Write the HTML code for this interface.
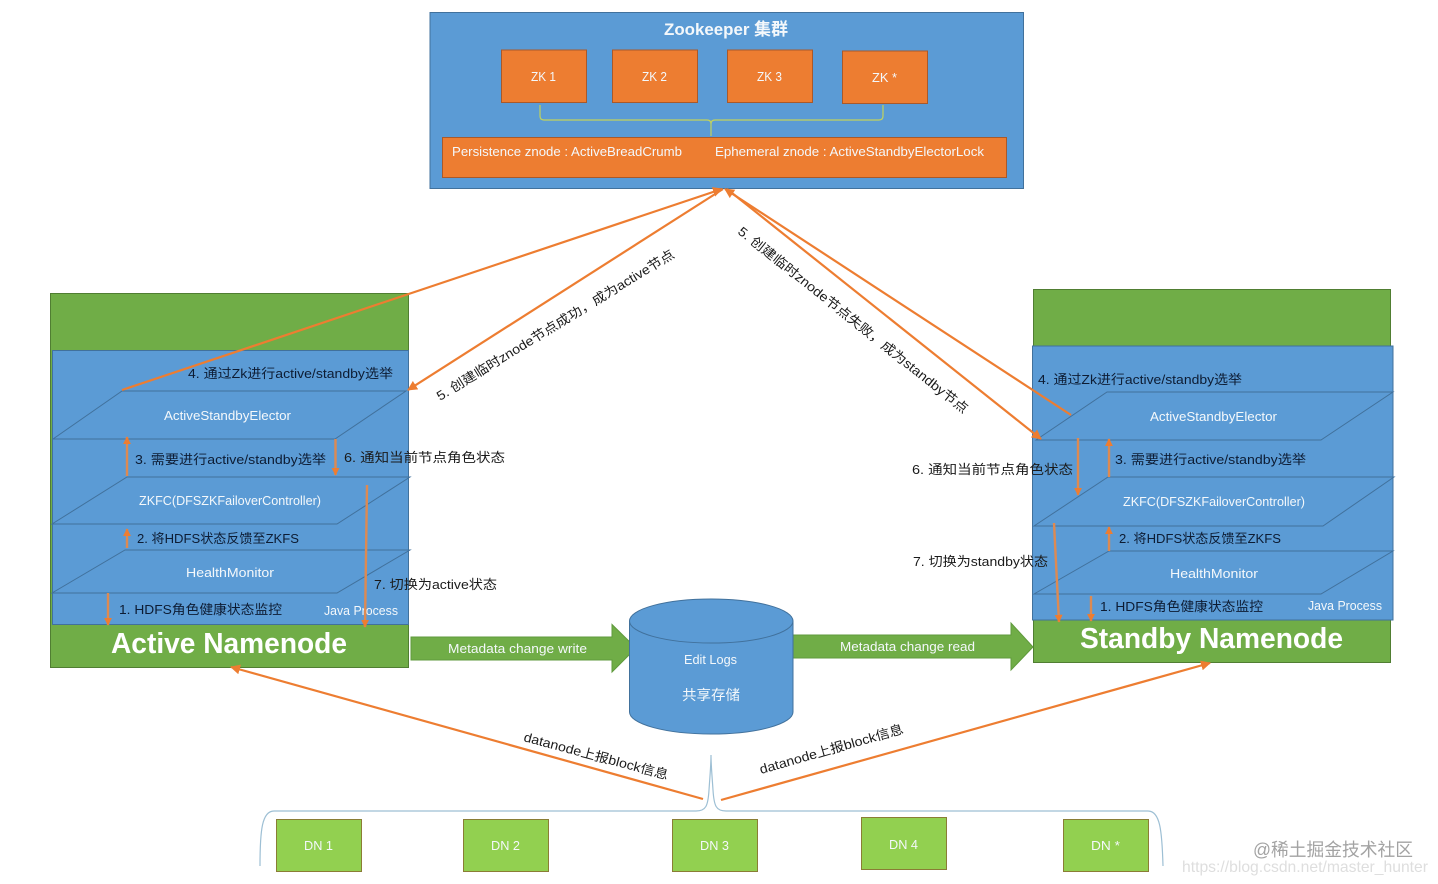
<!DOCTYPE html>
<html>
<head>
<meta charset="utf-8">
<style>
html,body{margin:0;padding:0;background:#fff;width:1438px;height:884px;overflow:hidden}
svg{display:block;filter:blur(0.35px)}
text{font-family:"Liberation Sans","Noto Sans CJK SC",sans-serif;font-size:13px}
.w{fill:#f4f8fb}
.d{fill:#0d1c33}
.k{fill:#1a1a1a}
.p{fill:none;stroke:#41719c;stroke-width:1}
.o{stroke:#ed7d31;stroke-width:2.2;fill:none}
.v{stroke:#dd8a52;stroke-width:2.4;fill:none}
</style>
</head>
<body>
<svg width="1438" height="884" viewBox="0 0 1438 884" xmlns="http://www.w3.org/2000/svg">
<defs>
<marker id="a" viewBox="0 0 10 10" refX="9" refY="5" markerWidth="8" markerHeight="8" orient="auto" markerUnits="userSpaceOnUse"><path d="M0 0L10 5L0 10Z" fill="#ed7d31"/></marker>
<marker id="b" viewBox="0 0 10 10" refX="9" refY="5" markerWidth="10" markerHeight="10" orient="auto" markerUnits="userSpaceOnUse"><path d="M0 0L10 5L0 10Z" fill="#ed7d31"/></marker>
</defs>

<!-- Zookeeper -->
<rect x="430" y="12.5" width="593.5" height="176" fill="#5b9bd5" stroke="#41719c"/>
<text x="664" y="35" class="w" font-weight="bold" style="font-size:17px" textLength="124" lengthAdjust="spacingAndGlyphs">Zookeeper 集群</text>
<g fill="#ed7d31" stroke="#a9592a">
<rect x="501.5" y="50" width="85" height="52.5"/>
<rect x="612.5" y="50" width="85" height="52.5"/>
<rect x="727.5" y="50" width="85" height="52.5"/>
<rect x="842.5" y="51" width="85" height="52.5"/>
<rect x="442.5" y="137.5" width="564" height="40"/>
</g>
<text x="531" y="81" class="w" textLength="25" lengthAdjust="spacingAndGlyphs">ZK 1</text>
<text x="642" y="81" class="w" textLength="25" lengthAdjust="spacingAndGlyphs">ZK 2</text>
<text x="757" y="81" class="w" textLength="25" lengthAdjust="spacingAndGlyphs">ZK 3</text>
<text x="872" y="82" class="w" textLength="25" lengthAdjust="spacingAndGlyphs">ZK *</text>
<path d="M540 105V116Q540 120 544 120H707Q711 120 711 124V136M711 124Q711 120 715 120H879Q883 120 883 116V105" fill="none" stroke="#c2d35c" stroke-width="1.2"/>
<text x="452" y="156" class="w" textLength="230" lengthAdjust="spacingAndGlyphs">Persistence znode : ActiveBreadCrumb</text>
<text x="715" y="156" class="w" textLength="269" lengthAdjust="spacingAndGlyphs">Ephemeral znode : ActiveStandbyElectorLock</text>

<!-- Active Namenode -->
<rect x="50.5" y="293.5" width="358" height="374" fill="#70ad47" stroke="#507e32"/>
<rect x="52.5" y="350.5" width="356" height="274" fill="#5b9bd5" stroke="#41719c"/>
<path class="p" d="M53 439L122 391H406L335 439Z"/>
<path class="p" d="M52 524L127 477H410L337 524Z"/>
<path class="p" d="M52 593L125 550H410L337 593Z"/>
<text x="188" y="378" class="d" textLength="205" lengthAdjust="spacingAndGlyphs">4. 通过Zk进行active/standby选举</text>
<text x="164" y="420" class="w" textLength="127" lengthAdjust="spacingAndGlyphs">ActiveStandbyElector</text>
<text x="135" y="464" class="d" textLength="191" lengthAdjust="spacingAndGlyphs">3. 需要进行active/standby选举</text>
<text x="344" y="462" class="k" textLength="161" lengthAdjust="spacingAndGlyphs">6. 通知当前节点角色状态</text>
<text x="139" y="505" class="w" textLength="182" lengthAdjust="spacingAndGlyphs">ZKFC(DFSZKFailoverController)</text>
<text x="137" y="543" class="d" textLength="162" lengthAdjust="spacingAndGlyphs">2. 将HDFS状态反馈至ZKFS</text>
<text x="186" y="577" class="w" textLength="88" lengthAdjust="spacingAndGlyphs">HealthMonitor</text>
<text x="374" y="589" class="k" textLength="123" lengthAdjust="spacingAndGlyphs">7. 切换为active状态</text>
<text x="119" y="614" class="d" textLength="163" lengthAdjust="spacingAndGlyphs">1. HDFS角色健康状态监控</text>
<text x="324" y="615" class="w" textLength="74" lengthAdjust="spacingAndGlyphs">Java Process</text>
<text x="111" y="653" fill="#fff" font-weight="bold" style="font-size:29px" textLength="236" lengthAdjust="spacingAndGlyphs">Active Namenode</text>

<!-- Standby Namenode -->
<rect x="1033.5" y="289.5" width="357" height="373" fill="#70ad47" stroke="#507e32"/>
<rect x="1032.5" y="346" width="360.5" height="274" fill="#5b9bd5" stroke="#41719c"/>
<path class="p" d="M1036 440L1107 392H1393L1321 440Z"/>
<path class="p" d="M1034 526L1108 477H1394L1323 526Z"/>
<path class="p" d="M1034 594L1109 551H1393L1321 594Z"/>
<text x="1038" y="384" class="d" textLength="204" lengthAdjust="spacingAndGlyphs">4. 通过Zk进行active/standby选举</text>
<text x="1150" y="421" class="w" textLength="127" lengthAdjust="spacingAndGlyphs">ActiveStandbyElector</text>
<text x="1115" y="464" class="d" textLength="191" lengthAdjust="spacingAndGlyphs">3. 需要进行active/standby选举</text>
<text x="912" y="474" class="k" textLength="161" lengthAdjust="spacingAndGlyphs">6. 通知当前节点角色状态</text>
<text x="1123" y="506" class="w" textLength="182" lengthAdjust="spacingAndGlyphs">ZKFC(DFSZKFailoverController)</text>
<text x="1119" y="543" class="d" textLength="162" lengthAdjust="spacingAndGlyphs">2. 将HDFS状态反馈至ZKFS</text>
<text x="1170" y="578" class="w" textLength="88" lengthAdjust="spacingAndGlyphs">HealthMonitor</text>
<text x="913" y="566" class="k" textLength="135" lengthAdjust="spacingAndGlyphs">7. 切换为standby状态</text>
<text x="1100" y="611" class="d" textLength="163" lengthAdjust="spacingAndGlyphs">1. HDFS角色健康状态监控</text>
<text x="1308" y="610" class="w" textLength="74" lengthAdjust="spacingAndGlyphs">Java Process</text>
<text x="1080" y="648" fill="#fff" font-weight="bold" style="font-size:29px" textLength="263" lengthAdjust="spacingAndGlyphs">Standby Namenode</text>

<!-- Vertical small arrows -->
<path class="v" d="M127 476V437" marker-end="url(#a)"/>
<path class="v" d="M335.500 439V475" marker-end="url(#a)"/>
<path class="v" d="M367 485L365 627" marker-end="url(#a)"/>
<path class="v" d="M127 548V529" marker-end="url(#a)"/>
<path class="v" d="M108 593V625" marker-end="url(#a)"/>
<path class="v" d="M1078 438V495" marker-end="url(#a)"/>
<path class="v" d="M1109 477V439" marker-end="url(#a)"/>
<path class="v" d="M1054 523L1059 622" marker-end="url(#a)"/>
<path class="v" d="M1109 551V527" marker-end="url(#a)"/>
<path class="v" d="M1091 596V621" marker-end="url(#a)"/>

<!-- Diagonal connectors -->
<path class="o" d="M122 390L722 189" marker-end="url(#b)"/>
<path class="o" d="M723 189L408 390" marker-end="url(#b)"/>
<path class="o" d="M727 189L1041 439" marker-end="url(#b)"/>
<path class="o" d="M1071 415L725 189" marker-end="url(#b)"/>
<path class="o" d="M703 799L231 667" marker-end="url(#b)"/>
<path class="o" d="M721 800L1210 663" marker-end="url(#b)"/>

<!-- Rotated labels -->
<text transform="translate(440 401) rotate(-31.5)" class="k" textLength="276" lengthAdjust="spacingAndGlyphs">5. 创建临时znode节点成功，成为active节点</text>
<text transform="translate(737 233) rotate(38.6)" class="k" textLength="290" lengthAdjust="spacingAndGlyphs">5. 创建临时znode节点失败，成为standby节点</text>
<text transform="translate(523 741) rotate(15)" class="k" textLength="149" lengthAdjust="spacingAndGlyphs">datanode上报block信息</text>
<text transform="translate(761 774) rotate(-16)" class="k" textLength="149" lengthAdjust="spacingAndGlyphs">datanode上报block信息</text>

<!-- Block arrows -->
<path d="M411 637H612V624.500L636 648L612 672V660H411Z" fill="#70ad47" stroke="#5f9a3c"/>
<path d="M793 635H1011V623L1033 647L1011 670V658H793Z" fill="#70ad47" stroke="#5f9a3c"/>
<text x="448" y="653" class="w" textLength="139" lengthAdjust="spacingAndGlyphs">Metadata change write</text>
<text x="840" y="651" class="w" textLength="135" lengthAdjust="spacingAndGlyphs">Metadata change read</text>

<!-- Cylinder -->
<path d="M629.500 621V712A81.750 22 0 0 0 793 712V621Z" fill="#5b9bd5" stroke="#41719c"/>
<ellipse cx="711.250" cy="621" rx="81.750" ry="22" fill="#5b9bd5" stroke="#41719c"/>
<text x="684" y="664" class="w" textLength="53" lengthAdjust="spacingAndGlyphs">Edit Logs</text>
<text x="682" y="700" class="w" style="font-size:14px" textLength="58" lengthAdjust="spacingAndGlyphs">共享存储</text>

<!-- Data nodes brace -->
<path d="M260 866C260 830 262 811 274 811H696C706 811 708 806 709 790C710 775 711 765 711 755C711 765 712 775 713 790C714 806 716 811 726 811H1148C1160 811 1162 830 1163 866" fill="none" stroke="#9dbfd4" stroke-width="1.2"/>

<g fill="#92d050" stroke="#8a7d35">
<rect x="276.500" y="819.500" width="85" height="52"/>
<rect x="463.500" y="819.500" width="85" height="52"/>
<rect x="672.500" y="819.500" width="85" height="52"/>
<rect x="861.500" y="817.500" width="85" height="52"/>
<rect x="1063.500" y="819.500" width="85" height="52"/>
</g>
<text x="304" y="850" class="w" textLength="29" lengthAdjust="spacingAndGlyphs">DN 1</text>
<text x="491" y="850" class="w" textLength="29" lengthAdjust="spacingAndGlyphs">DN 2</text>
<text x="700" y="850" class="w" textLength="29" lengthAdjust="spacingAndGlyphs">DN 3</text>
<text x="889" y="849" class="w" textLength="29" lengthAdjust="spacingAndGlyphs">DN 4</text>
<text x="1091" y="850" class="w" textLength="29" lengthAdjust="spacingAndGlyphs">DN *</text>

<!-- Watermarks -->
<text x="1253" y="856" fill="#a3a3a3" style="font-size:18px" textLength="160" lengthAdjust="spacingAndGlyphs">@稀土掘金技术社区</text>
<text x="1182" y="872" fill="#dedede" style="font-size:16px" textLength="246" lengthAdjust="spacingAndGlyphs">https://blog.csdn.net/master_hunter</text>
</svg>
</body>
</html>
